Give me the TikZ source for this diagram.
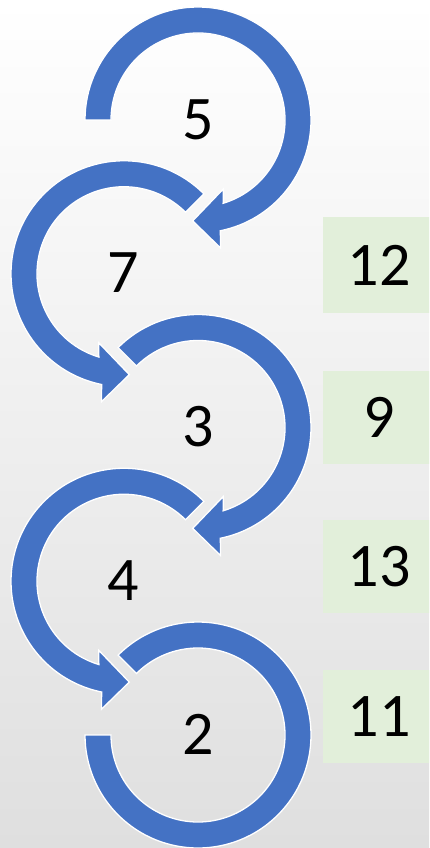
\documentclass[tikz,border=0pt]{standalone}
\usepackage{fontspec}
\setmainfont{Carlito}
\definecolor{ringblue}{HTML}{4472C4}
\definecolor{boxgreen}{HTML}{E2EFDA}
\definecolor{bgbottom}{RGB}{223,223,223}
\tikzset{
  ringarrow/.style={fill=ringblue, draw=white, line width=1.3pt, line join=miter},
  numlabel/.style={font=\fontsize{62}{70}\selectfont, text=black, inner sep=0pt},
  valbox/.style={fill=boxgreen, draw=none, minimum width=112pt, inner sep=0pt,
    font=\fontsize{62}{70}\selectfont},
  % ring arrow turning clockwise on screen, tail at angle #1, head at the bottom
  cwarrow/.pic={
    \filldraw[ringarrow] (#1:113) arc[start angle=#1, end angle=438.6, radius=113]
      -- (440:130) -- (453:101) -- (429.9:73.5) -- (433.2:87)
      arc[start angle=433.2, end angle=#1, radius=87] -- cycle;
  },
  % ring arrow turning anticlockwise on screen, tail at angle #1, head at the bottom
  ccwarrow/.pic={
    \filldraw[ringarrow] (#1:113) arc[start angle=#1, end angle=101.4, radius=113]
      -- (100:130) -- (87:101) -- (110.1:73.5) -- (106.8:87)
      arc[start angle=106.8, end angle=#1, radius=87] -- cycle;
  },
  % open ring with no head
  openring/.pic={
    \filldraw[ringarrow] (225:113) arc[start angle=225, end angle=540, radius=113]
      -- (540:87) arc[start angle=540, end angle=225, radius=87] -- cycle;
  }
}
\begin{document}
\begin{tikzpicture}[x=1pt, y=-1pt]
  \useasboundingbox (0,0) rectangle (429,848);
  \clip (0,0) rectangle (429,848);
  \shade[top color=white, bottom color=bgbottom] (0,0) rectangle (429,848);

  % ring centres
  \coordinate (c5) at (198,120);
  \coordinate (c7) at (124,273.75);
  \coordinate (c3) at (198,427.5);
  \coordinate (c4) at (124,581.25);
  \coordinate (c2) at (198,735);

  \pic at (c5) {cwarrow=180};
  \pic at (c7) {ccwarrow=315};
  \pic at (c3) {cwarrow=225};
  \pic at (c4) {ccwarrow=315};
  \pic at (c2) {openring};

  \node[numlabel] (n5) at (198,120) {5};
  \node[numlabel] (n7) at (123,273) {7};
  \node[numlabel] (n3) at (198,427) {3};
  \node[numlabel] (n4) at (123,581) {4};
  \node[numlabel] (n2) at (198,734) {2};

  \node[valbox, minimum height=96.7pt] (b12) at (379,265) {12};
  \node[valbox, minimum height=93.3pt] (b9) at (379,417.6) {9};
  \node[valbox, minimum height=93.3pt] (b13) at (379,566.7) {13};
  \node[valbox, minimum height=93.3pt] (b11) at (379,716.7) {11};
\end{tikzpicture}
\end{document}
